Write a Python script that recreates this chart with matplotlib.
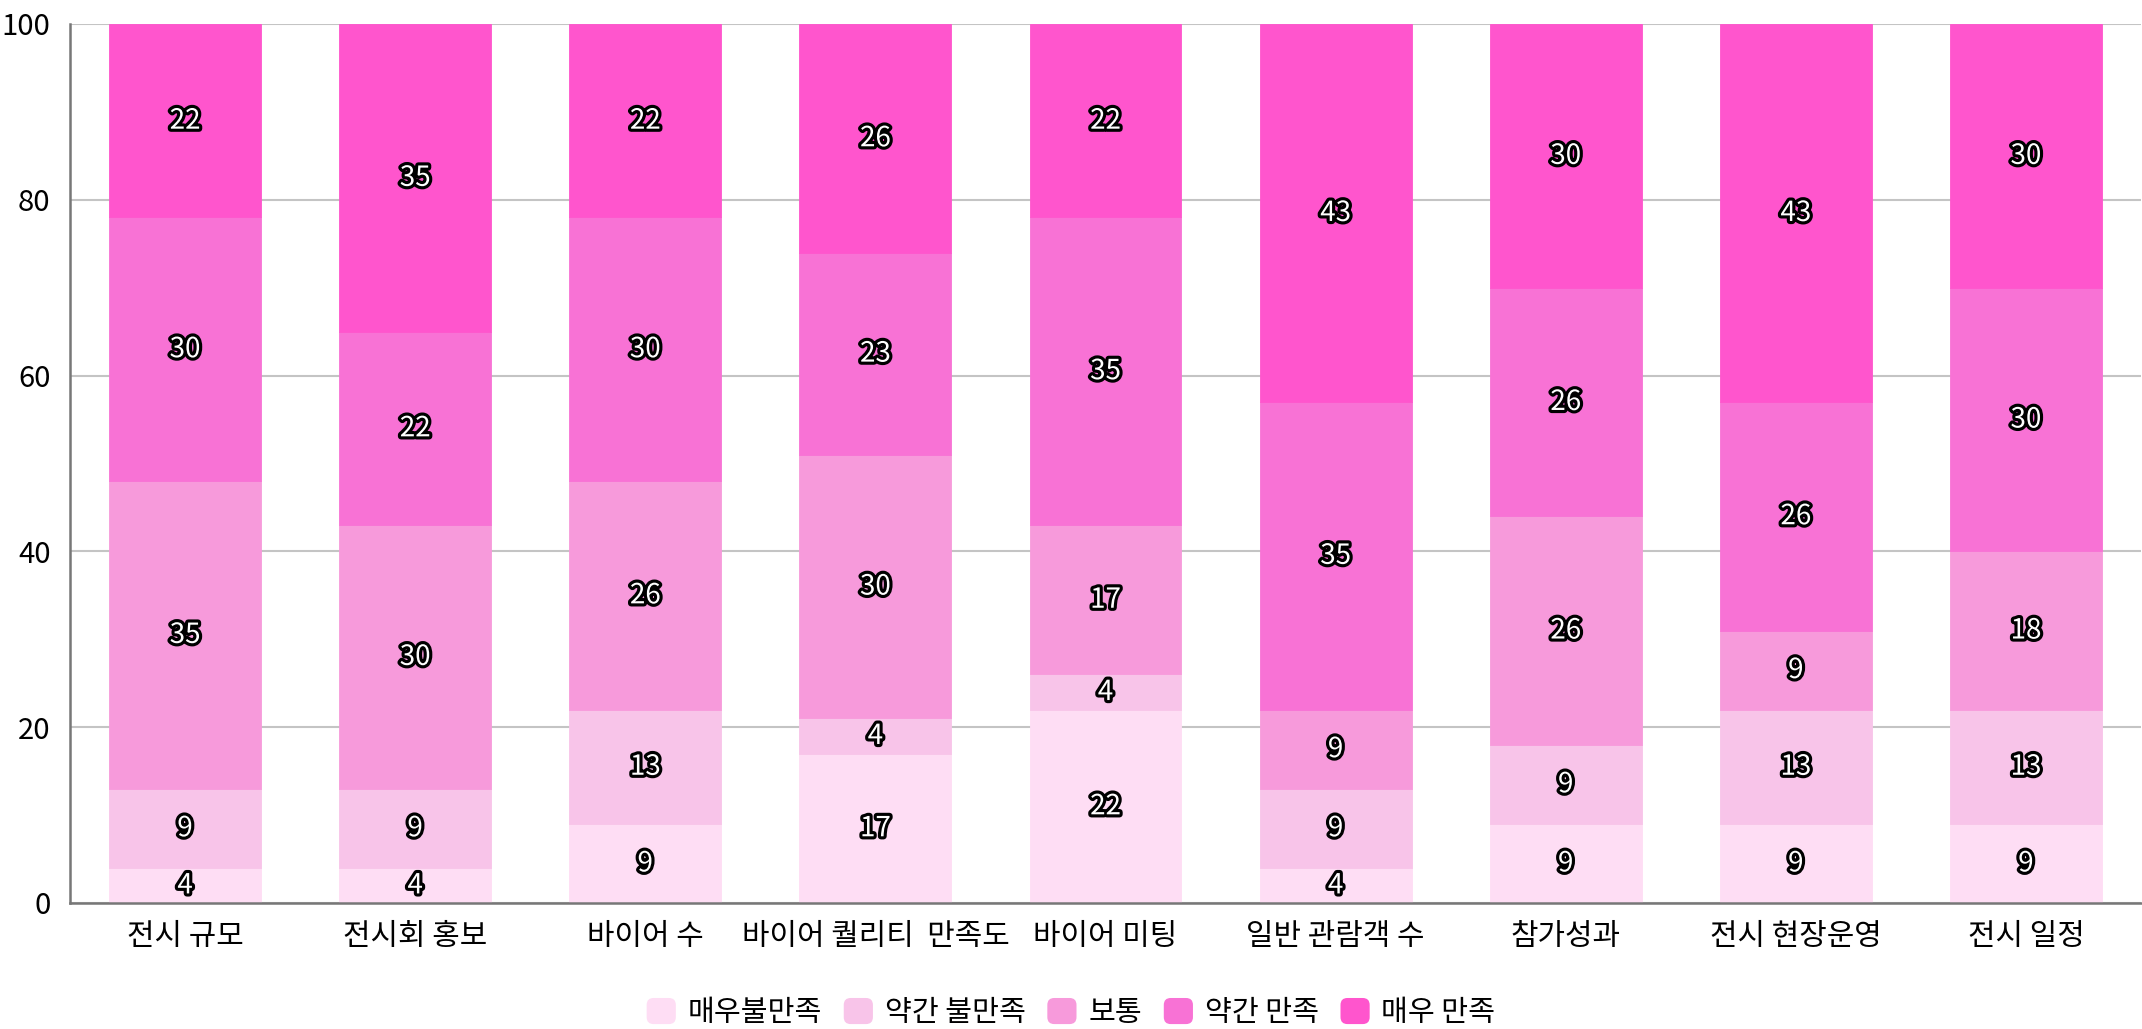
import matplotlib
matplotlib.use("Agg")
import matplotlib.pyplot as plt
import matplotlib.patheffects as pe
from matplotlib.patches import FancyBboxPatch
from matplotlib.legend_handler import HandlerPatch
import numpy as np

plt.rcParams['font.family'] = ['Noto Sans CJK KR', 'DejaVu Sans']

categories = ["전시 규모", "전시회 홍보", "바이어 수", "바이어 퀄리티  만족도", "바이어 미팅",
              "일반 관람객 수", "참가성과", "전시 현장운영", "전시 일정"]
series_names = ["매우불만족", "약간 불만족", "보통", "약간 만족", "매우 만족"]
very_dissatisfied = [4, 4, 9, 17, 22, 4, 9, 9, 9]
somewhat_dissatisfied = [9, 9, 13, 4, 4, 9, 9, 13, 13]
neutral = [35, 30, 26, 30, 17, 9, 26, 9, 18]
somewhat_satisfied = [30, 22, 30, 23, 35, 35, 26, 26, 30]
very_satisfied = [22, 35, 22, 26, 22, 43, 30, 43, 30]
y_ticks = [0, 20, 40, 60, 80, 100]

colors = ["#FEDDF4", "#F8C4E9", "#F79ADB", "#F872D5", "#FF55CD"]
series = [very_dissatisfied, somewhat_dissatisfied, neutral, somewhat_satisfied, very_satisfied]

fig = plt.figure(figsize=(21.42, 10.29), dpi=100)
ax = fig.add_axes([70 / 2142, 1 - 903 / 1029, 2071 / 2142, 879 / 1029])

x = np.arange(len(categories))
bottom = np.zeros(len(categories))
handles = []
for name, vals, col in zip(series_names, series, colors):
    vals = np.array(vals, dtype=float)
    bars = ax.bar(x, vals, width=0.66, bottom=bottom, color=col, label=name,
                  edgecolor=col, linewidth=0.6, zorder=2)
    handles.append(bars)
    for xi, b, v in zip(x, bottom, vals):
        ax.text(xi, b + v / 2, f"{int(v)}", ha='center', va='center',
                fontsize=20, fontweight='medium', color='white', zorder=4,
                path_effects=[pe.withStroke(linewidth=4.5, foreground='black')])
    bottom += vals

ax.set_xlim(-0.5, len(categories) - 0.5)
ax.set_ylim(0, 100)
ax.set_yticks(y_ticks)
ax.set_yticklabels([str(t) for t in y_ticks], fontsize=21)
ax.set_xticks(x)
ax.set_xticklabels(categories, fontsize=21.5)
ax.tick_params(axis='both', length=0)
ax.tick_params(axis='y', pad=14)
ax.tick_params(axis='x', pad=13)
ax.yaxis.grid(True, color='#c4c4c4', linewidth=1.5, zorder=0)
ax.set_axisbelow(True)
for s in ['top', 'right']:
    ax.spines[s].set_visible(False)
for s in ['left', 'bottom']:
    ax.spines[s].set_color('#777777')
    ax.spines[s].set_linewidth(1.8)


class RoundHandler(HandlerPatch):
    def create_artists(self, legend, orig_handle, xdescent, ydescent, width, height, fontsize, trans):
        fc = orig_handle.patches[0].get_facecolor() if hasattr(orig_handle, 'patches') else orig_handle.get_facecolor()
        p = FancyBboxPatch((-xdescent, -ydescent), width, height,
                           boxstyle="round,pad=0,rounding_size=5", fc=fc, ec='none',
                           transform=trans)
        return [p]

leg = fig.legend(handles=handles, labels=series_names, loc='center',
                 bbox_to_anchor=(0.5, 1 - 1013 / 1029), ncol=5, frameon=False,
                 fontsize=21, handlelength=1.0, handleheight=1.0,
                 handletextpad=0.4, columnspacing=0.75, borderpad=0,
                 handler_map={type(handles[0]): RoundHandler()})

fig.savefig("out.png", dpi=100)
